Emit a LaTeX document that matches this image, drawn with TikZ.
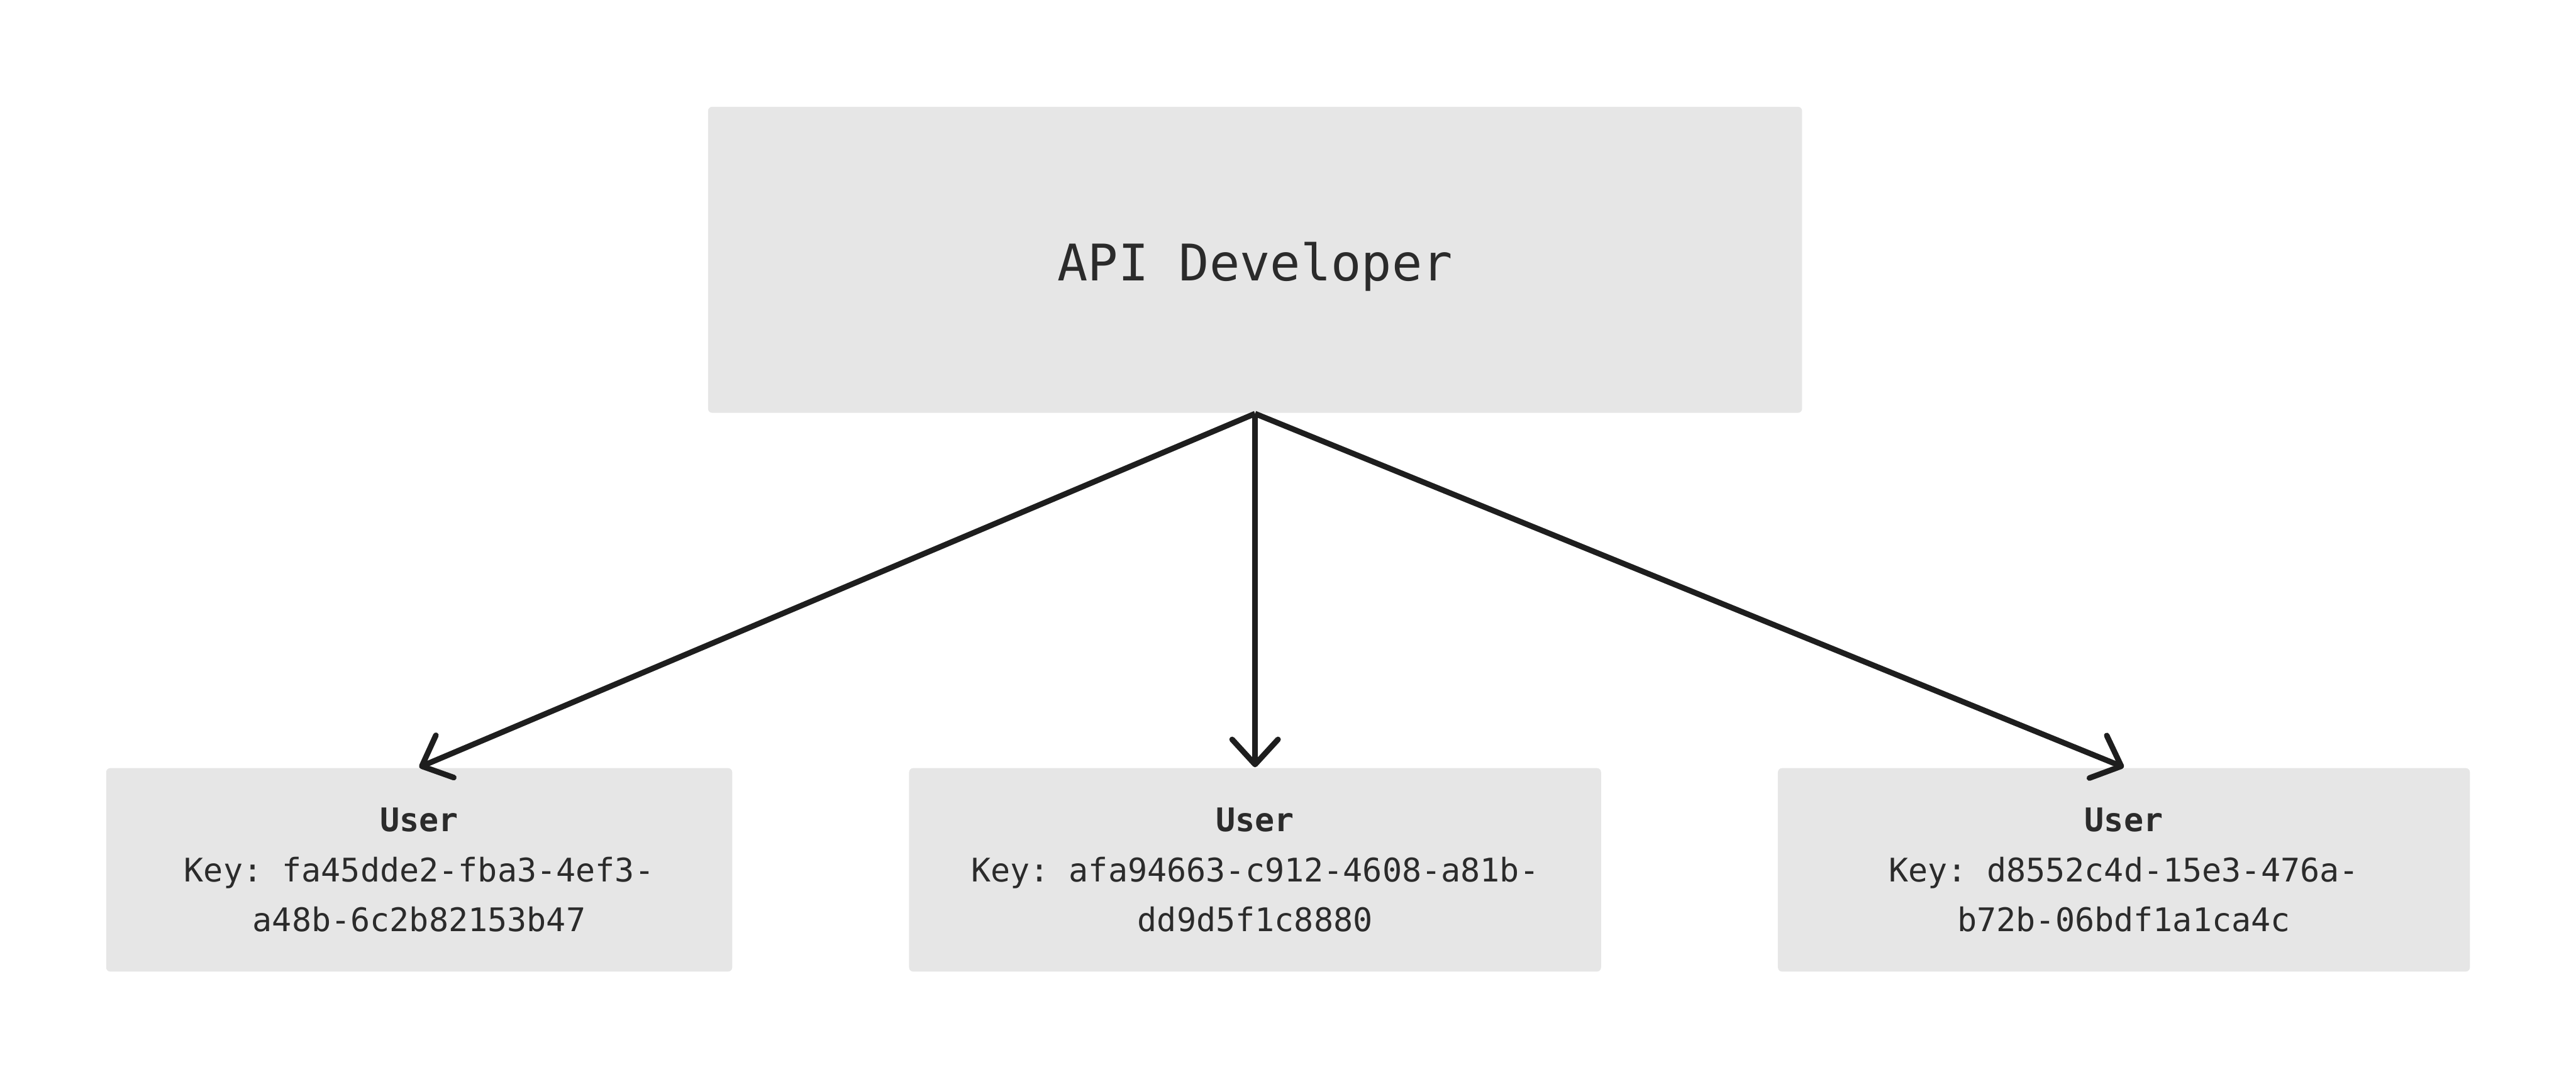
\documentclass[tikz,border=0pt]{standalone}
\usepackage{fontspec}
\setmonofont{DejaVu Sans Mono}
\usetikzlibrary{arrows.meta,positioning}
\definecolor{boxgray}{HTML}{E6E6E6}
\definecolor{inkgray}{HTML}{2B2B2B}
\definecolor{linegray}{HTML}{1E1E1E}

\begin{document}
\begin{tikzpicture}[
  node distance=84.8pt and 42pt,
  box/.style={fill=boxgray,rounded corners=1pt,inner sep=0pt,align=center,text=inkgray,font=\ttfamily\fontsize{7.8}{12}\selectfont},
  dev/.style={box,minimum width=262.3pt,minimum height=73.4pt,text height=10pt,text depth=0pt,font=\ttfamily\fontsize{12.1}{14}\selectfont},
  user/.style={box,minimum width=165.9pt,minimum height=48.8pt},
  arr/.style={-{Straight Barb[length=6pt,width=11pt,round]},line width=1.35pt,draw=linegray}
]
\useasboundingbox (0,0) rectangle (617.6pt,-258.2pt);
\node[dev] (dev) at (300.9pt,-62.3pt) {API Developer};
\node[user,below=of dev] (user2) {\textbf{User}\\Key: afa94663-c912-4608-a81b-\\dd9d5f1c8880};
\node[user,minimum width=150.1pt,left=of user2] (user1) {\textbf{User}\\Key: fa45dde2-fba3-4ef3-\\a48b-6c2b82153b47};
\node[user,right=of user2] (user3) {\textbf{User}\\Key: d8552c4d-15e3-476a-\\b72b-06bdf1a1ca4c};
\draw[arr] (dev.south) -- (user1.north);
\draw[arr] (dev.south) -- (user2.north);
\draw[arr] (dev.south) -- (user3.north);
\end{tikzpicture}
\end{document}
